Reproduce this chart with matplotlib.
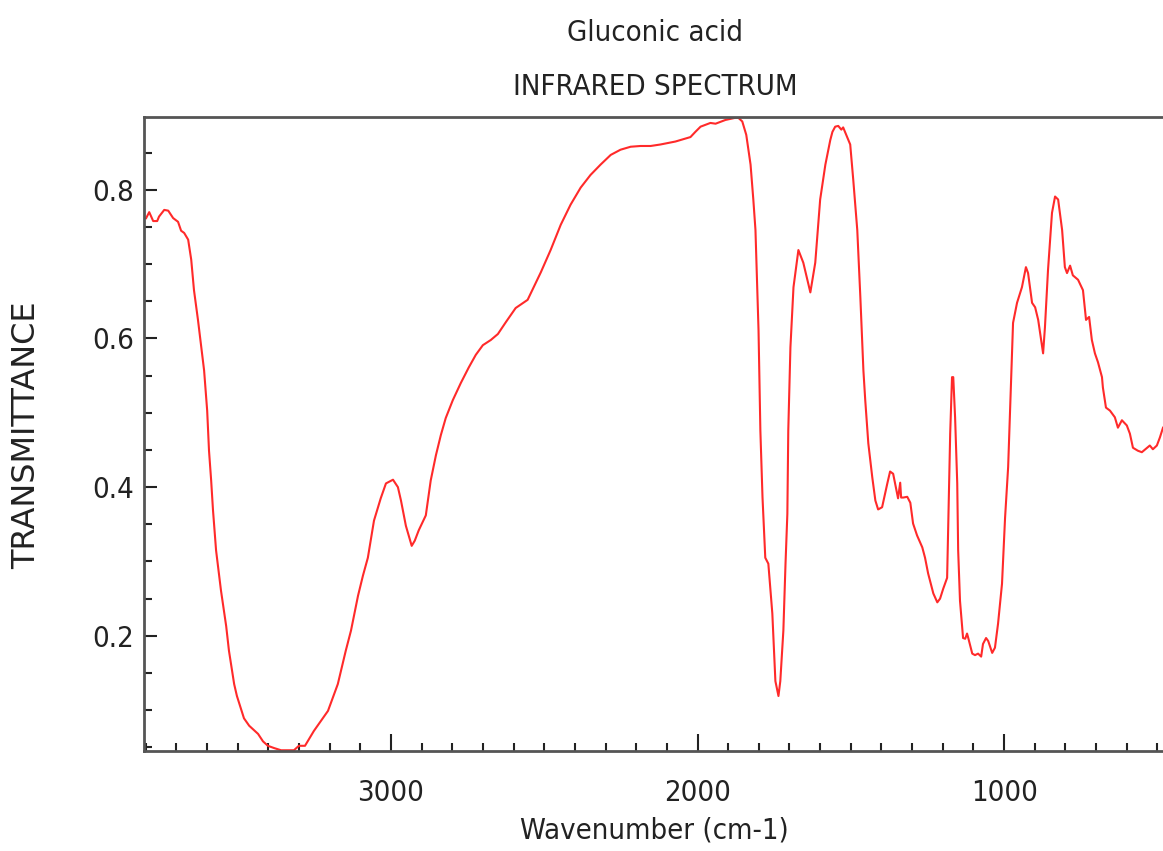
import matplotlib
matplotlib.use("Agg")
import matplotlib.pyplot as plt
from matplotlib.ticker import MultipleLocator, FixedLocator

# spectrum (wavenumber in cm-1, transmittance)
wavenumber = [3798, 3788, 3775, 3762, 3756, 3739, 3726, 3710, 3694, 3684,
              3674, 3661, 3651, 3642, 3629, 3619, 3609, 3599, 3593, 3586,
              3580, 3570, 3554, 3537, 3528, 3511, 3502, 3479, 3462, 3433,
              3417, 3401, 3381, 3358,
              3316, 3300, 3280, 3251, 3205, 3173, 3147, 3130, 3107, 3091,
              3075, 3055, 3033, 3016, 2993, 2977, 2967, 2951, 2932, 2922,
              2909, 2886, 2870, 2853, 2837, 2821, 2798, 2772, 2746, 2723,
              2700, 2674, 2651, 2625, 2593, 2554, 2511, 2479, 2446, 2414,
              2381, 2349, 2316, 2283, 2251, 2218, 2186, 2153, 2121, 2072,
              2023, 2007, 1990, 1958, 1941, 1909, 1876, 1867, 1854, 1841,
              1827, 1818, 1811, 1801, 1795, 1788, 1779, 1769, 1756, 1746,
              1736, 1730, 1720, 1713, 1707, 1704, 1697, 1687, 1671, 1655,
              1632, 1616, 1600, 1583, 1567, 1560, 1551, 1541, 1531, 1525,
              1515, 1502, 1492, 1479, 1469, 1459, 1453, 1443, 1430, 1420,
              1411, 1398, 1381, 1372, 1362, 1349, 1346, 1339, 1336, 1329,
              1316, 1306, 1297, 1284, 1267, 1258, 1248, 1231, 1218, 1209,
              1199, 1186, 1183, 1176, 1170, 1166, 1160, 1153, 1150, 1144,
              1134, 1127, 1121, 1117, 1104, 1095, 1085, 1075, 1069, 1059,
              1052, 1039, 1030, 1020, 1007, 997, 987, 981, 971, 958,
              942, 929, 922, 909, 899, 889, 873, 867, 857, 844,
              834, 824, 811, 802, 795, 785, 776, 759, 743, 733,
              723, 714, 704, 694, 681, 678, 668, 655, 639, 629,
              616, 600, 590, 580, 564, 551, 534, 525, 515, 502,
              492, 482]
transmittance = [0.762, 0.770, 0.758, 0.758, 0.764, 0.773, 0.772, 0.762, 0.757, 0.745,
                 0.742, 0.733, 0.706, 0.665, 0.625, 0.591, 0.557, 0.503, 0.449, 0.409,
                 0.369, 0.315, 0.261, 0.213, 0.180, 0.135, 0.119, 0.089, 0.079, 0.068,
                 0.058, 0.052, 0.049, 0.046,
                 0.046, 0.052, 0.052, 0.072, 0.099, 0.135, 0.180, 0.207, 0.254, 0.281,
                 0.305, 0.355, 0.385, 0.405, 0.410, 0.400, 0.382, 0.348, 0.321, 0.328,
                 0.342, 0.362, 0.409, 0.443, 0.470, 0.493, 0.517, 0.540, 0.561, 0.578,
                 0.591, 0.598, 0.606, 0.622, 0.641, 0.652, 0.689, 0.719, 0.753, 0.780,
                 0.803, 0.820, 0.834, 0.847, 0.854, 0.858, 0.859, 0.859, 0.861, 0.865,
                 0.871, 0.878, 0.885, 0.890, 0.889, 0.894, 0.897, 0.897, 0.892, 0.874,
                 0.834, 0.787, 0.746, 0.611, 0.476, 0.386, 0.305, 0.297, 0.230, 0.139,
                 0.119, 0.139, 0.207, 0.297, 0.364, 0.476, 0.588, 0.669, 0.719, 0.702,
                 0.662, 0.702, 0.787, 0.834, 0.867, 0.878, 0.885, 0.886, 0.881, 0.884,
                 0.874, 0.861, 0.813, 0.746, 0.656, 0.557, 0.517, 0.459, 0.413, 0.382,
                 0.370, 0.373, 0.405, 0.421, 0.418, 0.391, 0.385, 0.406, 0.386, 0.386,
                 0.387, 0.379, 0.351, 0.335, 0.319, 0.305, 0.284, 0.257, 0.245, 0.250,
                 0.263, 0.278, 0.338, 0.472, 0.548, 0.548, 0.494, 0.405, 0.315, 0.247,
                 0.197, 0.196, 0.203, 0.197, 0.176, 0.174, 0.176, 0.172, 0.189, 0.197,
                 0.193, 0.177, 0.184, 0.216, 0.270, 0.359, 0.427, 0.499, 0.621, 0.648,
                 0.669, 0.696, 0.688, 0.648, 0.642, 0.625, 0.580, 0.615, 0.692, 0.769,
                 0.791, 0.787, 0.746, 0.696, 0.688, 0.698, 0.685, 0.679, 0.665, 0.625,
                 0.629, 0.598, 0.580, 0.568, 0.548, 0.534, 0.507, 0.503, 0.494, 0.480,
                 0.490, 0.483, 0.472, 0.453, 0.449, 0.447, 0.453, 0.456, 0.451, 0.456,
                 0.467, 0.480]

x_ticks = [3000, 2000, 1000]
y_ticks = [0.2, 0.4, 0.6, 0.8]

font = dict(family="DejaVu Sans", stretch="condensed", color="#222222")

fig = plt.figure(figsize=(11.63, 8.51), dpi=100)
ax = fig.add_axes([144 / 1163, 1 - 751 / 851, 1 - 144 / 1163, (751 - 117) / 851])

ax.plot(wavenumber, transmittance, color="#ff2a2a", lw=1.5)

ax.set_xlim(3805, 482)
ax.set_ylim(0.045, 0.898)

ax.xaxis.set_major_locator(FixedLocator(x_ticks))
ax.xaxis.set_minor_locator(MultipleLocator(100))
ax.yaxis.set_major_locator(FixedLocator(y_ticks))
ax.yaxis.set_minor_locator(MultipleLocator(0.05))
ax.set_xticklabels([str(t) for t in x_ticks], fontsize=21, **font)
ax.set_yticklabels([f"{t:.1f}" for t in y_ticks], fontsize=21, **font)

ax.tick_params(axis="x", which="major", direction="in", length=12, width=1.5,
               color="#222222", pad=20)
ax.tick_params(axis="x", which="minor", direction="in", length=6, width=1.5,
               color="#222222")
ax.tick_params(axis="y", which="major", direction="in", length=9, width=1.5,
               color="#222222", pad=7)
ax.tick_params(axis="y", which="minor", direction="in", length=6, width=1.5,
               color="#222222")
ax.tick_params(top=False, right=False)

ax.spines["right"].set_visible(False)
for s in ["left", "bottom", "top"]:
    ax.spines[s].set_color("#555555")
    ax.spines[s].set_linewidth(2)

fig.text(0.563, 1 - 33 / 851, "Gluconic acid", ha="center", va="center",
         fontsize=21, **font)
fig.text(0.563, 1 - 87 / 851, "INFRARED SPECTRUM", ha="center", va="center",
         fontsize=21, **font)
fig.text(0.563, 1 - 830 / 851, "Wavenumber (cm-1)", ha="center", va="center",
         fontsize=21, **font)
fig.text(27 / 1163, 1 - 435 / 851, "TRANSMITTANCE", rotation=90, ha="center",
         va="center", fontsize=23, family="DejaVu Sans", color="#222222")

fig.savefig("out.png", dpi=100)
